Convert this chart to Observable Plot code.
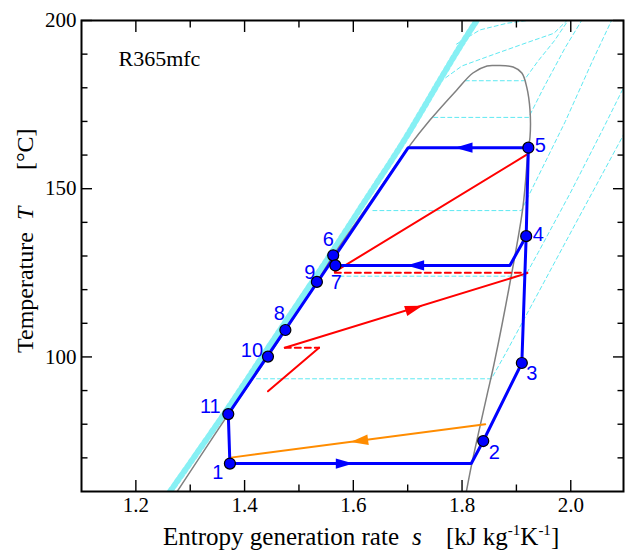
<!DOCTYPE html>
<html><head><meta charset="utf-8">
<script src="https://cdn.jsdelivr.net/npm/d3@7"></script>
<script src="https://cdn.jsdelivr.net/npm/@observablehq/plot@0.6"></script>
<style>
body{margin:0;background:#fff;}
#chart{width:630px;height:559px;}
</style></head><body><div id="chart"></div>
<script>
// ---------------- data ----------------
const fluidName = "R365mfc";
const xTicksMajor = [1.2, 1.4, 1.6, 1.8, 2.0];
const xTickLabels = ["1.2", "1.4", "1.6", "1.8", "2.0"];
const xTicksMinor = [1.3, 1.5, 1.7, 1.9];
const yTicksMajor = [100, 150, 200];
const yTickLabels = ["100", "150", "200"];
const yTicksMinor = [70, 80, 90, 110, 120, 130, 140, 160, 170, 180, 190];

// state points
const stateLabels = ["1", "2", "3", "4", "5", "6", "7", "8", "9", "10", "11"];
const stateS = [1.373, 1.839, 1.910, 1.918, 1.922, 1.563, 1.567, 1.475, 1.533, 1.443, 1.370];
const stateT = [68.3, 75.0, 98.2, 135.9, 162.2, 130.2, 127.2, 108.0, 122.3, 100.1, 83.0];

// main cycle (blue)
const cycleS = [1.373, 1.817, 1.839, 1.910, 1.918, 1.922, 1.701, 1.370, 1.373];
const cycleT = [68.3, 68.3, 75.0, 98.2, 135.9, 162.2, 162.2, 83.0, 68.3];
// branch 4 -> 7 (blue)
const branchS = [1.918, 1.888, 1.567];
const branchT = [135.9, 127.2, 127.2];

// red solid segments
const redA_S = [1.922, 1.566]; const redA_T = [160.4, 125.35];
const redB_S = [1.474, 1.920]; const redB_T = [102.75, 124.9];
const redC_S = [1.537, 1.443]; const redC_T = [102.75, 89.8];
// red dashed segments
const redD_S = [1.566, 1.920]; const redD_T = [125.05, 125.05];
const redE_S = [1.474, 1.537]; const redE_T = [102.75, 102.75];
// orange
const orangeS = [1.8426, 1.3747]; const orangeT = [79.96, 70.07];

// arrows: position and the point they face
const arrowS = [1.581, 1.806, 1.717, 1.709, 1.614];
const arrowT = [68.3, 162.2, 127.2, 114.3, 75.1];
const arrowToS = [1.817, 1.701, 1.567, 1.920, 1.3747];
const arrowToT = [68.3, 162.2, 127.2, 124.9, 70.07];
const arrowLine = ["cycle", "cycle", "cycle", "red", "orange"];

// saturation dome (grey)
const domeS = [1.276, 1.3703, 1.4432, 1.5331, 1.5634, 1.627, 1.701, 1.741, 1.790, 1.820, 1.846, 1.864, 1.894, 1.910, 1.919, 1.925, 1.925, 1.922, 1.912, 1.888, 1.859, 1.845, 1.818, 1.808];
const domeT = [60, 83, 100.1, 122.3, 130.2, 145, 162.2, 170.4, 179.3, 184.4, 186.5, 186.6, 186.2, 184.4, 180.2, 173.4, 165.3, 162.2, 144.5, 121.9, 98, 88, 68.3, 60];

// compressed-liquid isobar bundle (cyan band)
const bandS = [1.263, 1.362, 1.432, 1.556, 1.62, 1.686, 1.727, 1.763, 1.800, 1.827];
const bandT = [60, 83, 100, 130, 146, 162.4, 173.4, 183.3, 193.2, 200];

// isobars (cyan dashed)
const iso1S = [1.422, 1.854, 1.88, 1.95, 2.02, 2.097]; const iso1T = [93.5, 93.5, 101, 122, 143, 166];
const iso2S = [1.5625, 1.916, 1.94, 2.00, 2.06, 2.097]; const iso2T = [124.0, 124.0, 131, 149, 168, 180];
const iso3S = [1.636, 1.909, 1.935, 1.99, 2.04, 2.075]; const iso3T = [143.5, 143.5, 152, 170, 188, 200];
const iso4S = [1.748, 1.9226, 1.95, 1.99, 2.02]; const iso4T = [171.2, 171.2, 180, 192, 200];
const iso5S = [1.806, 1.9135, 1.94, 1.97, 1.995]; const iso5T = [182.1, 182.1, 188, 194, 200];
const iso6S = [1.77, 1.80, 1.851, 1.919, 1.969, 1.993]; const iso6T = [183, 186.5, 189.5, 193.4, 196.2, 200];
const iso7S = [1.79, 1.833, 1.883, 1.92]; const iso7T = [193, 197.2, 199.2, 200];

// ---------------- helpers / styles ----------------
const rows = (S, T, id) => S.map((s, i) => ({s, T: T[i], id}));
const isobarRows = [
  ...rows(iso1S, iso1T, 1), ...rows(iso2S, iso2T, 2), ...rows(iso3S, iso3T, 3),
  ...rows(iso4S, iso4T, 4), ...rows(iso5S, iso5T, 5), ...rows(iso6S, iso6T, 6), ...rows(iso7S, iso7T, 7)
];
const states = stateLabels.map((l, i) => ({label: l, s: stateS[i], T: stateT[i]}));
const arrows = arrowS.map((s, i) => ({s, T: arrowT[i], ts: arrowToS[i], tT: arrowToT[i], line: arrowLine[i]}));

const BLUE = "#0000ff", RED = "#ff0000", ORANGE = "#ff8c00", GREY = "#808080", CYAN = "#5ee9f2";
const lineColor = {cycle: BLUE, red: RED, orange: ORANGE};
const labelOffset = {
  "1": [-12, 9], "2": [11, 12], "3": [10, 11], "4": [12, -2], "5": [12, -2], "6": [-5, -16],
  "7": [1, 17], "8": [-6, -16], "9": [-7, -9], "10": [-16, -6], "11": [-18, -8]
};
const arrowSymbol = {
  draw(ctx, size) {
    const r = Math.sqrt(size / Math.PI);
    ctx.moveTo(0, -1.3 * r);
    ctx.lineTo(0.65 * r, 0.9 * r);
    ctx.lineTo(-0.65 * r, 0.9 * r);
    ctx.closePath();
  }
};
const SERIF = "'Liberation Serif', 'Times New Roman', 'DejaVu Serif', serif";
const SANS = "'Liberation Sans', Arial, sans-serif";

function build(rotations) {
  const tickOpts = {stroke: "black", strokeWidth: 1.4, label: null, fontFamily: SERIF, fontSize: 21, fill: "black"};
  return Plot.plot({
    width: 630, height: 559,
    marginLeft: 81, marginRight: 7, marginTop: 20, marginBottom: 68,
    x: {domain: [1.1, 2.097]},
    y: {domain: [60, 200]},
    style: {fontFamily: SERIF, fontSize: "21px", color: "black", background: "white", overflow: "visible"},
    marks: [
      Plot.line(isobarRows, {x: "s", y: "T", z: "id", stroke: CYAN, strokeWidth: 1, strokeDasharray: "4,3", clip: true}),
      Plot.line(rows(bandS, bandT, 0), {x: "s", y: "T", stroke: "#86f0f4", strokeWidth: 6, strokeDasharray: "3,3", curve: "catmull-rom", clip: true}),
      Plot.line(rows(domeS, domeT, 0), {x: "s", y: "T", stroke: GREY, strokeWidth: 1.5, curve: "catmull-rom", clip: true}),
      Plot.line(rows(orangeS, orangeT, 0), {x: "s", y: "T", stroke: ORANGE, strokeWidth: 2}),
      Plot.line(rows(redA_S, redA_T, 0), {x: "s", y: "T", stroke: RED, strokeWidth: 2}),
      Plot.line(rows(redB_S, redB_T, 0), {x: "s", y: "T", stroke: RED, strokeWidth: 2}),
      Plot.line(rows(redC_S, redC_T, 0), {x: "s", y: "T", stroke: RED, strokeWidth: 2}),
      Plot.line(rows(redD_S, redD_T, 0), {x: "s", y: "T", stroke: RED, strokeWidth: 2, strokeDasharray: "6,4"}),
      Plot.line(rows(redE_S, redE_T, 0), {x: "s", y: "T", stroke: RED, strokeWidth: 2, strokeDasharray: "6,4"}),
      Plot.line(rows(cycleS, cycleT, 0), {x: "s", y: "T", stroke: BLUE, strokeWidth: 3, strokeLinejoin: "miter"}),
      Plot.line(rows(branchS, branchT, 0), {x: "s", y: "T", stroke: BLUE, strokeWidth: 3}),
      Plot.dot(arrows, {x: "s", y: "T", r: 8, symbol: arrowSymbol, fill: d => lineColor[d.line], stroke: "none",
        rotate: (d, i) => rotations ? rotations[i] : 0}),
      Plot.dot(states, {x: "s", y: "T", r: 5.5, fill: BLUE, stroke: "black", strokeWidth: 1.2}),
      ...states.map(d => Plot.text([d], {x: "s", y: "T", text: "label", fill: BLUE, fontFamily: SANS, fontSize: 20,
        dx: labelOffset[d.label][0], dy: labelOffset[d.label][1]})),
      Plot.text([fluidName], {frameAnchor: "top-left", text: d => d, dx: 37, dy: 30, fontFamily: SERIF, fontSize: 22, textAnchor: "start", fill: "black"}),
      Plot.axisX(xTicksMajor, {anchor: "bottom", tickSize: -11, tickPadding: 17, tickFormat: d => xTickLabels[xTicksMajor.indexOf(d)], ...tickOpts}),
      Plot.axisX(xTicksMinor, {anchor: "bottom", tickSize: -6.5, tickFormat: () => "", ...tickOpts}),
      Plot.axisX(xTicksMajor, {anchor: "top", tickSize: -11, tickFormat: () => "", ...tickOpts}),
      Plot.axisX(xTicksMinor, {anchor: "top", tickSize: -6.5, tickFormat: () => "", ...tickOpts}),
      Plot.axisY(yTicksMajor, {anchor: "left", tickSize: -11, tickPadding: 16, tickFormat: d => yTickLabels[yTicksMajor.indexOf(d)], ...tickOpts}),
      Plot.axisY(yTicksMinor, {anchor: "left", tickSize: -6.5, tickFormat: () => "", ...tickOpts}),
      Plot.axisY(yTicksMajor, {anchor: "right", tickSize: -11, tickFormat: () => "", ...tickOpts}),
      Plot.axisY(yTicksMinor, {anchor: "right", tickSize: -6.5, tickFormat: () => "", ...tickOpts}),
      Plot.frame({stroke: "black", strokeWidth: 2})
    ]
  });
}

// first pass to obtain scales, then compute arrow rotations in screen space
const probe = build(null);
const sx = probe.scale("x"), sy = probe.scale("y");
const rotations = arrows.map(a => {
  const dx = sx.apply(a.ts) - sx.apply(a.s);
  const dy = sy.apply(a.tT) - sy.apply(a.T);
  return Math.atan2(dx, -dy) * 180 / Math.PI;
});
const chart = build(rotations);
document.getElementById("chart").appendChild(chart);

// axis titles (with italics and superscripts)
const svg = d3.select(chart);
const xl = svg.append("text").attr("font-family", SERIF).attr("font-size", 25).attr("fill", "black")
  .attr("text-anchor", "start").attr("y", 545);
xl.append("tspan").attr("x", 163).text("Entropy generation rate");
xl.append("tspan").attr("x", 412).attr("font-style", "italic").text("s");
xl.append("tspan").attr("x", 446).text("[kJ kg");
xl.append("tspan").attr("font-size", 15).attr("dy", -10).text("-1");
xl.append("tspan").attr("dy", 10).text("K");
xl.append("tspan").attr("font-size", 15).attr("dy", -10).text("-1");
xl.append("tspan").attr("dy", 10).text("]");

const yl = svg.append("text").attr("font-family", SERIF).attr("font-size", 24).attr("fill", "black")
  .attr("text-anchor", "start").attr("transform", "translate(33,353) rotate(-90)");
yl.append("tspan").attr("x", 0).text("Temperature");
yl.append("tspan").attr("x", 133).attr("font-style", "italic").text("T");
yl.append("tspan").attr("x", 183).text("[°C]");
</script>
</body></html>
